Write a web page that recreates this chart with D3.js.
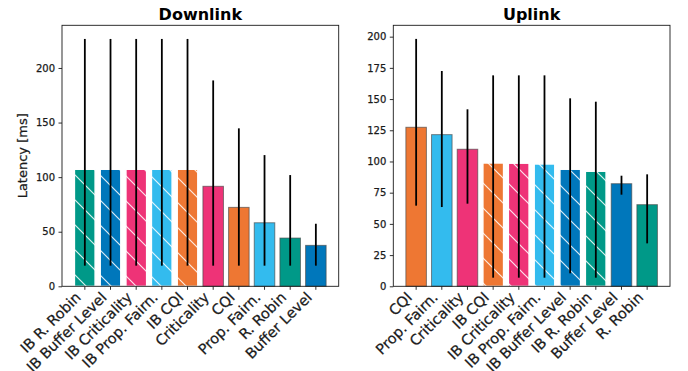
<!DOCTYPE html>
<html>
<head>
<meta charset="utf-8">
<script src="https://cdn.jsdelivr.net/npm/d3@7"></script>
<style>
  html, body { margin: 0; padding: 0; background: #fff; }
  svg { display: block; font-family: "DejaVu Sans", sans-serif; }
</style>
</head>
<body>
<div id="chart"></div>
<script>
// 两联柱图：Downlink / Uplink 各调度器时延（均值柱 + 区间误差线，IB = 斜线填充）
// 数据自图读出（估读）
const dlCats = ["IB R. Robin", "IB Buffer Level", "IB Criticality", "IB Prop. Fairn.", "IB CQI",
  "Criticality", "CQI", "Prop. Fairn.", "R. Robin", "Buffer Level"];
const dlMean = [107.1, 107.1, 107.1, 107.1, 107.1, 91.6, 72.3, 58.2, 44.2, 37.5];
const dlLow  = [18.9, 18.9, 18.9, 18.9, 18.9, 18.9, 18.9, 18.9, 18.9, 18.9];
const dlHigh = [226.6, 226.6, 226.6, 226.6, 226.6, 188.6, 144.7, 120.2, 101.9, 57.3];
const dlTicks = [0, 50, 100, 150, 200];

const ulCats = ["CQI", "Prop. Fairn.", "Criticality", "IB CQI", "IB Criticality",
  "IB Prop. Fairn.", "IB Buffer Level", "IB R. Robin", "Buffer Level", "R. Robin"];
const ulMean = [127.4, 121.5, 109.8, 98.8, 98.6, 98.0, 93.7, 92.1, 82.2, 65.4];
const ulLow  = [64.6, 63.5, 66.2, 6.9, 6.9, 6.9, 10.4, 6.9, 73.4, 34.4];
const ulHigh = [198.2, 172.5, 141.8, 169.0, 169.0, 169.0, 150.6, 147.9, 88.6, 89.7];
const ulTicks = [0, 25, 50, 75, 100, 125, 150, 175, 200];

(() => {
  const W = 688, H = 371;
  const TOP = 25.3, BOT = 286.3;
  const FONT = '"DejaVu Sans", sans-serif';
  const INK = "#1a1a1a";
  // 调度器 → 颜色（Tol vibrant）
  const COL = {
    "R. Robin": "#009988", "Buffer Level": "#0077BB", "Criticality": "#EE3377",
    "Prop. Fairn.": "#33BBEE", "CQI": "#EE7733",
  };

  const svg = d3.select("#chart").append("svg")
    .attr("width", W).attr("height", H).attr("viewBox", `0 0 ${W} ${H}`);

  // 斜线填充（白线 "\"，全图同相位）
  svg.append("defs").append("pattern")
    .attr("id", "hatch").attr("patternUnits", "userSpaceOnUse")
    .attr("width", 25).attr("height", 25)
    .append("path")
    .attr("d", "M-5,-5 L30,30 M-5,20 L5,30 M20,-5 L30,5")
    .attr("stroke", "#fff").attr("stroke-opacity", 0.85).attr("stroke-width", 1.2);

  // 文字略加描边，贴近原图偏重的字形
  const ink = sel => sel.attr("fill", INK).attr("stroke", INK).attr("stroke-width", 0.25);

  const panel = ({ title, x0, x1, cats, mean, low, high, ymax, ticks, ylabel }) => {
    const x = d3.scaleLinear().domain([-0.89, cats.length - 1 + 0.89]).range([x0, x1]);
    const y = d3.scaleLinear().domain([0, ymax]).range([BOT, TOP]);
    const bw = x(0.8) - x(0);
    const g = svg.append("g");

    // 柱
    cats.forEach((c, i) => {
      const ib = c.startsWith("IB ");
      const col = COL[ib ? c.slice(3) : c];
      const rx = x(i) - bw / 2, ry = y(mean[i]), rh = y(0) - y(mean[i]);
      g.append("rect")
        .attr("x", rx).attr("y", ry).attr("width", bw).attr("height", rh)
        .attr("fill", col)
        .attr("stroke", ib ? "#fff" : "rgba(70,70,70,.65)").attr("stroke-width", 1);
      if (ib) {
        g.append("rect")
          .attr("x", rx).attr("y", ry).attr("width", bw).attr("height", rh)
          .attr("fill", "url(#hatch)")
          .attr("stroke", "#fff").attr("stroke-width", 1);
      }
    });

    // 误差线（无帽）
    cats.forEach((c, i) => {
      g.append("line")
        .attr("x1", x(i)).attr("x2", x(i))
        .attr("y1", y(low[i])).attr("y2", y(high[i]))
        .attr("stroke", "#000").attr("stroke-width", 1.8);
    });

    // 边框
    g.append("rect")
      .attr("x", x0).attr("y", TOP).attr("width", x1 - x0).attr("height", BOT - TOP)
      .attr("fill", "none").attr("stroke", INK).attr("stroke-width", 0.9);

    // y 轴
    const ya = g.append("g").attr("transform", `translate(${x0},0)`)
      .call(d3.axisLeft(y).tickValues(ticks).tickSize(3.5).tickPadding(3.5));
    ya.select(".domain").remove();
    ya.selectAll("line").attr("stroke", INK).attr("stroke-width", 0.9);
    ya.selectAll("text").call(ink).style("font", `10px ${FONT}`);

    // x 轴刻度 + 45° 标签
    cats.forEach((c, i) => {
      g.append("line")
        .attr("x1", x(i)).attr("x2", x(i)).attr("y1", BOT).attr("y2", BOT + 3.5)
        .attr("stroke", INK).attr("stroke-width", 0.9);
      g.append("text")
        .attr("transform", `translate(${x(i) - 3},${BOT + 12}) rotate(-45)`)
        .attr("text-anchor", "end")
        .call(ink)
        .style("font", `14.5px ${FONT}`)
        .text(c);
    });

    g.append("text")
      .attr("x", (x0 + x1) / 2).attr("y", 20).attr("text-anchor", "middle")
      .attr("fill", "#000")
      .style("font", `bold 16px ${FONT}`)
      .text(title);

    if (ylabel) {
      g.append("text")
        .attr("transform", `translate(27,${(TOP + BOT) / 2}) rotate(-90)`)
        .attr("text-anchor", "middle")
        .call(ink)
        .style("font", `13px ${FONT}`)
        .text(ylabel);
    }
  };

  panel({ title: "Downlink", x0: 62, x1: 338.7, cats: dlCats, mean: dlMean, low: dlLow,
    high: dlHigh, ymax: 239.1, ticks: dlTicks, ylabel: "Latency [ms]" });
  panel({ title: "Uplink", x0: 393.3, x1: 670, cats: ulCats, mean: ulMean, low: ulLow,
    high: ulHigh, ymax: 209.1, ticks: ulTicks });
})();
</script>
</body>
</html>
